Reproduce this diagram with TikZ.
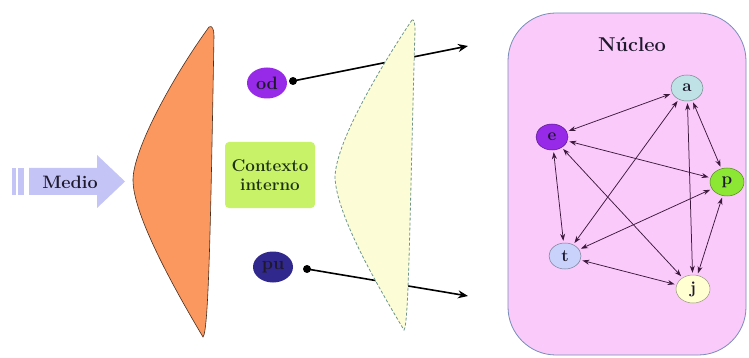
\documentclass[tikz,border=0pt]{standalone}
\usetikzlibrary{shapes.geometric,arrows.meta}
\definecolor{medioC}{RGB}{196,196,246}
\definecolor{orangeC}{RGB}{250,152,96}
\definecolor{yellowC}{RGB}{252,252,214}
\definecolor{dashC}{RGB}{110,150,140}
\definecolor{greenBox}{RGB}{200,242,104}
\definecolor{ctxText}{RGB}{30,50,20}
\definecolor{purpleC}{RGB}{150,42,232}
\definecolor{navyC}{RGB}{48,40,140}
\definecolor{pinkC}{RGB}{250,202,250}
\definecolor{pinkBorder}{RGB}{120,140,185}
\definecolor{aC}{RGB}{190,226,230}
\definecolor{pC}{RGB}{140,230,52}
\definecolor{tC}{RGB}{200,210,250}
\definecolor{jC}{RGB}{255,255,210}
\definecolor{edgeC}{RGB}{60,25,60}
\definecolor{txt}{RGB}{30,25,45}
\tikzset{
  gnode/.style={ellipse, draw=#1!60!black, line width=0.5pt, minimum width=32pt, minimum height=26pt, inner sep=0pt, font=\bfseries\fontsize{17}{17}\selectfont, text=txt},
  lnode/.style={ellipse, minimum width=40pt, minimum height=31pt, inner sep=0pt, font=\bfseries\fontsize{18}{18}\selectfont, text=txt},
  gedge/.style={draw=edgeC, line width=0.75pt, {Stealth[length=7pt,width=5pt]}-{Stealth[length=7pt,width=5pt]}, shorten <=2pt, shorten >=2pt},
  outarrow/.style={draw=black, line width=1.6pt, -{Stealth[length=10pt,width=8pt]}},
}
\begin{document}
\begin{tikzpicture}[x=1pt,y=-1pt]
\useasboundingbox (0,0) rectangle (749,358);
\fill[white] (0,0) rectangle (749,358);
% Medio arrow
\fill[medioC] (12,168) rectangle (16,195);
\fill[medioC] (18,168) rectangle (24,195);
\fill[medioC] (29,168) -- (97,168) -- (97,155) -- (125,181.5) -- (97,208) -- (97,195) -- (29,195) -- cycle;
\node[font=\bfseries\fontsize{18}{18}\selectfont, text=txt] (medio) at (70,182) {Medio};
% orange shape
\draw[fill=orangeC, draw=black!70!orangeC, line width=0.6pt]
  (209,27) .. controls (172,78) and (133,150) .. (133,180)
  .. controls (133,215) and (175,290) .. (203,337)
  .. controls (209,332) and (211,200) .. (214,36)
  .. controls (214,29) and (212,25) .. (209,27) -- cycle;
% context box
\node[fill=greenBox, rounded corners=4pt, minimum width=90pt, minimum height=66pt, align=center, inner sep=2pt, text=ctxText, font=\bfseries\fontsize{17}{19}\selectfont] (ctx) at (270,175) {Contexto\\interno};
% od / pu
\node[lnode, fill=purpleC] (od) at (267,83) {od};
\node[lnode, fill=navyC] (pu) at (273,267) {pu};
\coordinate (odd) at (293,81);
\coordinate (pud) at (307,269);
\coordinate (odt) at (468,46);
\coordinate (put) at (468,296);
\draw[outarrow] (odd) -- (odt);
\draw[outarrow] (pud) -- (put);
\fill[black] (odd) circle (4);
\fill[black] (pud) circle (4);
% yellow shape
\draw[fill=yellowC, draw=dashC, dashed, dash pattern=on 3pt off 2pt, line width=0.8pt]
  (412,20) .. controls (385,60) and (336,140) .. (335,177)
  .. controls (336,215) and (380,290) .. (404,330)
  .. controls (409,325) and (410,200) .. (415,30)
  .. controls (415,23) and (414,19) .. (412,20) -- cycle;
% nucleus
\draw[fill=pinkC, draw=pinkBorder, line width=0.8pt, rounded corners=48pt] (508,13) rectangle (746,355);
\node[font=\bfseries\fontsize{20}{20}\selectfont, text=txt] (nuc) at (632,45) {Núcleo};
\node[gnode=aC, fill=aC] (a) at (687,88) {a};
\node[gnode=purpleC, fill=purpleC] (e) at (552,137) {e};
\node[gnode=pC, fill=pC, minimum width=34pt, minimum height=28pt] (p) at (727,182) {p};
\node[gnode=tC, fill=tC] (t) at (565,256) {t};
\node[gnode=jC, fill=jC, minimum width=34pt, minimum height=28pt] (j) at (693,289) {j};
\draw[gedge] (e) -- (a);
\draw[gedge] (e) -- (p);
\draw[gedge] (e) -- (t);
\draw[gedge] (e) -- (j);
\draw[gedge] (a) -- (t);
\draw[gedge] (a) -- (j);
\draw[gedge] (a) -- (p);
\draw[gedge] (p) -- (t);
\draw[gedge] (p) -- (j);
\draw[gedge] (t) -- (j);
\end{tikzpicture}
\end{document}
